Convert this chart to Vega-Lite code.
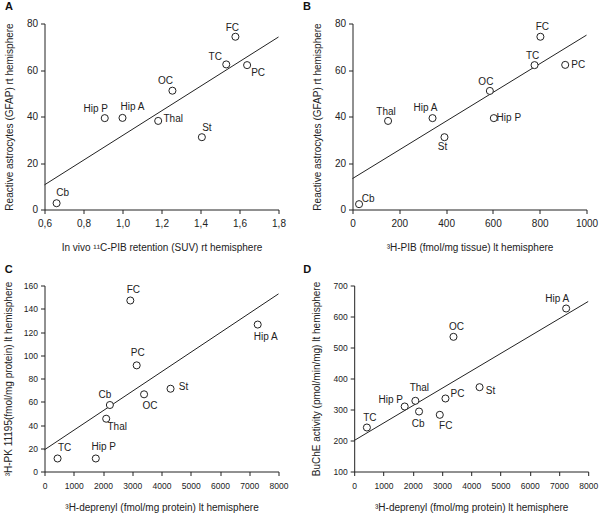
{
  "$schema": "https://vega.github.io/schema/vega-lite/v6.json",
  "background": "white",
  "padding": {"left": 2.5, "top": 0.5, "right": 0, "bottom": 0},
  "config": {
    "font": "Liberation Sans",
    "view": {"stroke": null},
    "axis": {"grid": false, "domainColor": "#222", "tickColor": "#222", "labelColor": "#222", "titleColor": "#222", "labelFontSize": 10, "titleFontSize": 10, "titleFontWeight": "normal", "tickSize": 4, "domainWidth": 1, "tickWidth": 1, "labelFlush": false, "labelOverlap": false},
    "axisX": {"labelPadding": 5, "titlePadding": 13.5},
    "axisY": {"labelPadding": 3, "titlePadding": 12},
    "title": {"anchor": "start", "frame": "group", "fontSize": 11, "fontWeight": "bold", "color": "#111", "offset": 6.5},
    "text": {"font": "Liberation Sans", "fontSize": 10, "color": "#222"}
  },
  "spacing": 11,
  "vconcat": [
    {
      "spacing": 17,
      "hconcat": [
        {
          "title": {"text": "A", "dx": -39.5},
          "width": 234, "height": 186,
          "data": {"values": [
            {"label": "FC", "x": 1.579, "y": 74.3},
            {"label": "TC", "x": 1.532, "y": 62.4},
            {"label": "PC", "x": 1.639, "y": 62.1},
            {"label": "OC", "x": 1.256, "y": 51.1},
            {"label": "Hip P", "x": 0.909, "y": 39.3},
            {"label": "Hip A", "x": 1.0, "y": 39.4},
            {"label": "Thal", "x": 1.183, "y": 38.1},
            {"label": "St", "x": 1.407, "y": 31.1},
            {"label": "Cb", "x": 0.662, "y": 2.7}
          ]},
          "encoding": {
            "x": {"field": "x", "type": "quantitative", "scale": {"domain": [0.6, 1.8], "nice": false, "zero": false}, "axis": {"title": "In vivo ¹¹C-PIB retention (SUV) rt hemisphere", "values": [0.6, 0.8, 1.0, 1.2, 1.4, 1.6, 1.8], "format": ".1f", "labelExpr": "replace(datum.label, '.', ',')"}},
            "y": {"field": "y", "type": "quantitative", "scale": {"domain": [0, 80], "nice": false}, "axis": {"title": "Reactive astrocytes (GFAP) rt hemisphere", "values": [0, 20, 40, 60, 80]}}
          },
          "layer": [
            {"data": {"values": [{"x": 0.6, "y": 10.6}, {"x": 1.8, "y": 74.2}]}, "mark": {"type": "line", "color": "#222", "strokeWidth": 1}},
            {"mark": {"type": "point", "shape": "circle", "size": 50, "filled": true, "fill": "white", "stroke": "#222", "strokeWidth": 1, "opacity": 1}},
            {"mark": {"type": "text", "align": "center", "baseline": "middle",
              "dx": {"expr": "datum.label==='FC'?-3:datum.label==='TC'?-11:datum.label==='PC'?11:datum.label==='OC'?-7:datum.label==='Hip P'?-9:datum.label==='Hip A'?10:datum.label==='Thal'?15:datum.label==='St'?5:6"},
              "dy": {"expr": "datum.label==='FC'?-9:datum.label==='TC'?-7:datum.label==='PC'?8:datum.label==='OC'?-10:datum.label==='Hip P'?-9:datum.label==='Hip A'?-11:datum.label==='Thal'?-2:datum.label==='St'?-9:-10"}},
             "encoding": {"text": {"field": "label"}}},
            {"data": {"values": [{}]}, "mark": {"type": "text", "text": "r", "fontStyle": "italic", "align": "left", "baseline": "middle"}, "encoding": {"x": {"datum": 0.665}, "y": {"datum": 73.7}}},
            {"data": {"values": [{}]}, "mark": {"type": "text", "text": "=0.75", "align": "left", "baseline": "middle", "dx": 4}, "encoding": {"x": {"datum": 0.665}, "y": {"datum": 73.7}}},
            {"data": {"values": [{}]}, "mark": {"type": "text", "text": "P", "fontStyle": "italic", "align": "left", "baseline": "middle"}, "encoding": {"x": {"datum": 0.665}, "y": {"datum": 68.6}}},
            {"data": {"values": [{}]}, "mark": {"type": "text", "text": "<0.03", "align": "left", "baseline": "middle", "dx": 7}, "encoding": {"x": {"datum": 0.665}, "y": {"datum": 68.6}}}
          ]
        },
        {
          "title": {"text": "B", "dx": -49.5},
          "width": 234, "height": 186,
          "data": {"values": [
            {"label": "FC", "x": 803, "y": 74.3},
            {"label": "TC", "x": 778, "y": 62.1},
            {"label": "PC", "x": 909, "y": 62.2},
            {"label": "OC", "x": 587, "y": 51.0},
            {"label": "Hip P", "x": 604, "y": 39.3},
            {"label": "Hip A", "x": 342, "y": 39.3},
            {"label": "Thal", "x": 152, "y": 38.1},
            {"label": "St", "x": 393, "y": 31.1},
            {"label": "Cb", "x": 28, "y": 2.3}
          ]},
          "encoding": {
            "x": {"field": "x", "type": "quantitative", "scale": {"domain": [0, 1000], "nice": false}, "axis": {"title": "³H-PIB (fmol/mg tissue) lt hemisphere", "values": [0, 200, 400, 600, 800, 1000], "format": "d"}},
            "y": {"field": "y", "type": "quantitative", "scale": {"domain": [0, 80], "nice": false}, "axis": {"title": "Reactive astrocytes (GFAP) rt hemisphere", "values": [0, 20, 40, 60, 80]}}
          },
          "layer": [
            {"data": {"values": [{"x": 0, "y": 13.3}, {"x": 1000, "y": 75.0}]}, "mark": {"type": "line", "color": "#222", "strokeWidth": 1}},
            {"mark": {"type": "point", "shape": "circle", "size": 50, "filled": true, "fill": "white", "stroke": "#222", "strokeWidth": 1, "opacity": 1}},
            {"mark": {"type": "text", "align": "center", "baseline": "middle",
              "dx": {"expr": "datum.label==='FC'?2:datum.label==='TC'?-2:datum.label==='PC'?13:datum.label==='OC'?-4:datum.label==='Hip P'?15:datum.label==='Hip A'?-7:datum.label==='Thal'?-2:datum.label==='St'?-2:9"},
              "dy": {"expr": "datum.label==='FC'?-10:datum.label==='TC'?-9:datum.label==='PC'?0:datum.label==='OC'?-9:datum.label==='Hip P'?0:datum.label==='Hip A'?-10:datum.label==='Thal'?-9:datum.label==='St'?10:-5"}},
             "encoding": {"text": {"field": "label"}}},
            {"data": {"values": [{}]}, "mark": {"type": "text", "text": "r", "fontStyle": "italic", "align": "left", "baseline": "middle"}, "encoding": {"x": {"datum": 54}, "y": {"datum": 73.3}}},
            {"data": {"values": [{}]}, "mark": {"type": "text", "text": "=0.88", "align": "left", "baseline": "middle", "dx": 4}, "encoding": {"x": {"datum": 54}, "y": {"datum": 73.3}}},
            {"data": {"values": [{}]}, "mark": {"type": "text", "text": "P", "fontStyle": "italic", "align": "left", "baseline": "middle"}, "encoding": {"x": {"datum": 54}, "y": {"datum": 68.4}}},
            {"data": {"values": [{}]}, "mark": {"type": "text", "text": "<0.01", "align": "left", "baseline": "middle", "dx": 7}, "encoding": {"x": {"datum": 54}, "y": {"datum": 68.4}}}
          ]
        }
      ]
    },
    {
      "spacing": 14.7,
      "hconcat": [
        {
          "title": {"text": "C", "dx": -39.7},
          "width": 234, "height": 186,
          "data": {"values": [
            {"label": "FC", "x": 2934, "y": 147.1},
            {"label": "Hip A", "x": 7289, "y": 126.4},
            {"label": "PC", "x": 3152, "y": 91.3},
            {"label": "St", "x": 4309, "y": 71.2},
            {"label": "OC", "x": 3404, "y": 66.4},
            {"label": "Cb", "x": 2235, "y": 57.2},
            {"label": "Thal", "x": 2109, "y": 45.4},
            {"label": "TC", "x": 447, "y": 11.2},
            {"label": "Hip P", "x": 1754, "y": 11.2}
          ]},
          "encoding": {
            "x": {"field": "x", "type": "quantitative", "scale": {"domain": [0, 8000], "nice": false}, "axis": {"title": "³H-deprenyl (fmol/mg protein) lt hemisphere", "values": [0, 1000, 2000, 3000, 4000, 5000, 6000, 7000, 8000], "format": "d", "labelFontSize": 8.5, "labelPadding": 6, "titlePadding": 12}},
            "y": {"field": "y", "type": "quantitative", "scale": {"domain": [0, 160], "nice": false}, "axis": {"title": "³H-PK 11195(fmol/mg protein) lt hemisphere", "values": [0, 20, 40, 60, 80, 100, 120, 140, 160], "labelFontSize": 8.5, "titlePadding": 10}}
          },
          "layer": [
            {"data": {"values": [{"x": 0, "y": 18.7}, {"x": 8000, "y": 152.8}]}, "mark": {"type": "line", "color": "#222", "strokeWidth": 1}},
            {"mark": {"type": "point", "shape": "circle", "size": 50, "filled": true, "fill": "white", "stroke": "#222", "strokeWidth": 1, "opacity": 1}},
            {"mark": {"type": "text", "align": "center", "baseline": "middle",
              "dx": {"expr": "datum.label==='FC'?3:datum.label==='Hip A'?8:datum.label==='PC'?1:datum.label==='St'?13:datum.label==='OC'?6:datum.label==='Cb'?-5:datum.label==='Thal'?11:datum.label==='TC'?7:8"},
              "dy": {"expr": "datum.label==='FC'?-10:datum.label==='Hip A'?12:datum.label==='PC'?-12:datum.label==='St'?-2:datum.label==='OC'?12:datum.label==='Cb'?-10:datum.label==='Thal'?8:datum.label==='TC'?-10:-11"}},
             "encoding": {"text": {"field": "label"}}},
            {"data": {"values": [{}]}, "mark": {"type": "text", "text": "r", "fontStyle": "italic", "align": "left", "baseline": "middle"}, "encoding": {"x": {"datum": 458}, "y": {"datum": 146.5}}},
            {"data": {"values": [{}]}, "mark": {"type": "text", "text": "=0.78", "align": "left", "baseline": "middle", "dx": 4}, "encoding": {"x": {"datum": 458}, "y": {"datum": 146.5}}},
            {"data": {"values": [{}]}, "mark": {"type": "text", "text": "P", "fontStyle": "italic", "align": "left", "baseline": "middle"}, "encoding": {"x": {"datum": 458}, "y": {"datum": 136.7}}},
            {"data": {"values": [{}]}, "mark": {"type": "text", "text": "<0.03", "align": "left", "baseline": "middle", "dx": 7}, "encoding": {"x": {"datum": 458}, "y": {"datum": 136.7}}}
          ]
        },
        {
          "title": {"text": "D", "dx": -51},
          "width": 234, "height": 186,
          "data": {"values": [
            {"label": "Hip A", "x": 7246, "y": 625.8},
            {"label": "OC", "x": 3394, "y": 534.4},
            {"label": "St", "x": 4286, "y": 372.0},
            {"label": "PC", "x": 3120, "y": 335.5},
            {"label": "Thal", "x": 2091, "y": 328.0},
            {"label": "Hip P", "x": 1726, "y": 309.7},
            {"label": "Cb", "x": 2217, "y": 293.5},
            {"label": "FC", "x": 2926, "y": 282.8},
            {"label": "TC", "x": 434, "y": 241.9}
          ]},
          "encoding": {
            "x": {"field": "x", "type": "quantitative", "scale": {"domain": [0, 8000], "nice": false}, "axis": {"title": "³H-deprenyl (fmol/mg protein) lt hemisphere", "values": [0, 1000, 2000, 3000, 4000, 5000, 6000, 7000, 8000], "format": "d", "labelFontSize": 8.5, "labelPadding": 6, "titlePadding": 12}},
            "y": {"field": "y", "type": "quantitative", "scale": {"domain": [100, 700], "nice": false, "zero": false}, "axis": {"title": "BuChE activity (pmol/min/mg) lt hemisphere", "values": [100, 200, 300, 400, 500, 600, 700], "labelFontSize": 8.5, "titlePadding": 11.5}}
          },
          "layer": [
            {"data": {"values": [{"x": 0, "y": 200}, {"x": 8000, "y": 648.4}]}, "mark": {"type": "line", "color": "#222", "strokeWidth": 1}},
            {"mark": {"type": "point", "shape": "circle", "size": 50, "filled": true, "fill": "white", "stroke": "#222", "strokeWidth": 1, "opacity": 1}},
            {"mark": {"type": "text", "align": "center", "baseline": "middle",
              "dx": {"expr": "datum.label==='Hip A'?-9:datum.label==='OC'?3:datum.label==='St'?11:datum.label==='PC'?12:datum.label==='Thal'?4:datum.label==='Hip P'?-14:datum.label==='Cb'?-1:datum.label==='FC'?6:3"},
              "dy": {"expr": "datum.label==='Hip A'?-10:datum.label==='OC'?-10:datum.label==='St'?4:datum.label==='PC'?-4:datum.label==='Thal'?-13:datum.label==='Hip P'?-6:datum.label==='Cb'?12:datum.label==='FC'?11:-10"}},
             "encoding": {"text": {"field": "label"}}},
            {"data": {"values": [{}]}, "mark": {"type": "text", "text": "r", "fontStyle": "italic", "align": "left", "baseline": "middle"}, "encoding": {"x": {"datum": 434}, "y": {"datum": 652.7}}},
            {"data": {"values": [{}]}, "mark": {"type": "text", "text": "=0.83", "align": "left", "baseline": "middle", "dx": 4}, "encoding": {"x": {"datum": 434}, "y": {"datum": 652.7}}},
            {"data": {"values": [{}]}, "mark": {"type": "text", "text": "P", "fontStyle": "italic", "align": "left", "baseline": "middle"}, "encoding": {"x": {"datum": 434}, "y": {"datum": 596.8}}},
            {"data": {"values": [{}]}, "mark": {"type": "text", "text": "<0.02", "align": "left", "baseline": "middle", "dx": 7}, "encoding": {"x": {"datum": 434}, "y": {"datum": 596.8}}}
          ]
        }
      ]
    }
  ]
}
